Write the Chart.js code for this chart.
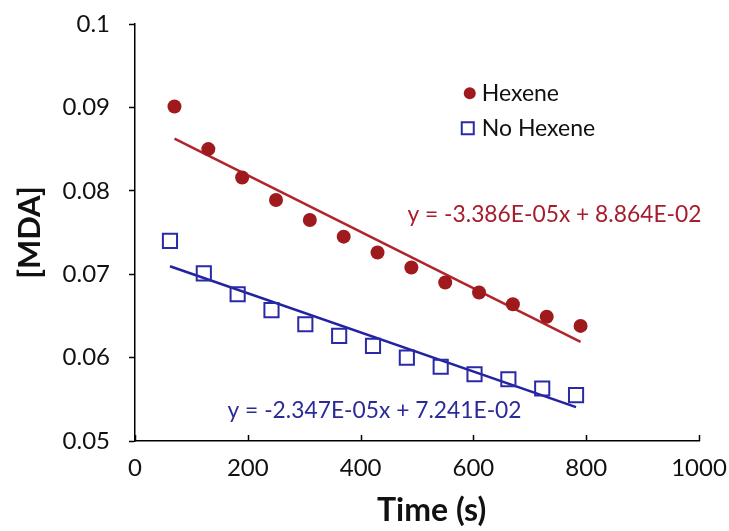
<!DOCTYPE html>
<html>
<head>
<meta charset="utf-8">
<script src="https://cdn.jsdelivr.net/npm/chart.js@4.4.0/dist/chart.umd.min.js"></script>
<style>
html,body{margin:0;padding:0;background:#fff;}
#wrap{width:729px;height:531px;position:relative;}
</style>
</head>
<body>
<div id="wrap"><canvas id="c" width="729" height="531"></canvas></div>
<script>
// Data
const hexeneTime = [70, 130, 190, 250, 310, 370, 430, 490, 550, 610, 670, 730, 790];
const hexeneMDA  = [0.0901, 0.0850, 0.0816, 0.0789, 0.0765, 0.0745, 0.0726, 0.0708, 0.0690, 0.0678, 0.0664, 0.0649, 0.0638];
const noHexeneTime = [62, 122, 182, 242, 302, 362, 422, 482, 542, 602, 662, 722, 782];
const noHexeneMDA  = [0.0740, 0.0701, 0.0676, 0.0657, 0.0640, 0.0626, 0.0614, 0.0600, 0.0589, 0.0580, 0.0574, 0.0563, 0.0555];
const hexeneFit = {slope: -3.386e-5, intercept: 8.864e-2};
const noHexeneFit = {slope: -2.347e-5, intercept: 7.241e-2};
const xTicks = [0, 200, 400, 600, 800, 1000];
const yTicks = [0.05, 0.06, 0.07, 0.08, 0.09, 0.1];
const seriesNames = ['Hexene', 'No Hexene'];
const xTitle = 'Time (s)';
const yTitle = '[MDA]';
const hexeneEquation = 'y = -3.386E-05x + 8.864E-02';
const noHexeneEquation = 'y = -2.347E-05x + 7.241E-02';

const RED_PT = '#9e1a1c', RED_LINE = '#b0242a', RED_TXT = '#a51e2e';
const BLUE_PT = '#2a2aa6', BLUE_LINE = '#2323a0', BLUE_TXT = '#2b2b98';
const FONT = 'Lato';

function fitLine(xs, fit) {
  const a = xs[0], b = xs[xs.length - 1];
  return [{x: a, y: fit.slope * a + fit.intercept}, {x: b, y: fit.slope * b + fit.intercept}];
}

const overlay = {
  id: 'overlay',
  afterDraw(chart) {
    const ctx = chart.ctx;
    const xs = chart.scales.x, ys = chart.scales.y;
    ctx.save();
    // x ticks pointing inward
    ctx.strokeStyle = '#000'; ctx.lineWidth = 1.5;
    xTicks.forEach(v => {
      const px = Math.round(xs.getPixelForValue(v)) + 0.5;
      ctx.beginPath(); ctx.moveTo(px, ys.bottom); ctx.lineTo(px, ys.bottom - 6); ctx.stroke();
    });
    // x axis title
    ctx.fillStyle = '#111';
    ctx.font = 'bold 32px ' + FONT;
    ctx.textAlign = 'center'; ctx.textBaseline = 'middle';
    ctx.fillText(xTitle, xs.getPixelForValue(526), ys.bottom + 70);
    // legend
    const lx = xs.getPixelForValue(590), ly1 = ys.getPixelForValue(0.0917), ly2 = ys.getPixelForValue(0.0875);
    ctx.fillStyle = RED_PT;
    ctx.beginPath(); ctx.arc(lx + 2, ly1, 6, 0, Math.PI * 2); ctx.fill();
    ctx.strokeStyle = BLUE_PT; ctx.lineWidth = 2;
    ctx.strokeRect(lx - 6, ly2 - 6, 12, 12);
    ctx.fillStyle = '#111';
    ctx.font = '23px ' + FONT;
    ctx.textBaseline = 'middle'; ctx.textAlign = 'left';
    ctx.fillText(seriesNames[0], lx + 14, ly1);
    ctx.fillText(seriesNames[1], lx + 14, ly2);
    // equations
    ctx.font = '22.8px ' + FONT;
    ctx.fillStyle = RED_TXT;
    ctx.fillText(hexeneEquation, xs.getPixelForValue(483), ys.getPixelForValue(0.0772));
    ctx.fillStyle = BLUE_TXT;
    ctx.fillText(noHexeneEquation, xs.getPixelForValue(164), ys.getPixelForValue(0.0536));
    ctx.restore();
  }
};

new Chart(document.getElementById('c'), {
  type: 'scatter',
  data: {
    datasets: [
      {label: seriesNames[0], data: hexeneTime.map((t, i) => ({x: t, y: hexeneMDA[i]})),
       pointStyle: 'circle', pointRadius: 7, backgroundColor: RED_PT, borderColor: RED_PT, borderWidth: 0, order: 1},
      {label: seriesNames[1], data: noHexeneTime.map((t, i) => ({x: t, y: noHexeneMDA[i]})),
       pointStyle: 'rect', pointRadius: 10, backgroundColor: 'rgba(255,255,255,0)', borderColor: BLUE_PT, borderWidth: 2, order: 1},
      {label: 'fitH', type: 'line', data: fitLine(hexeneTime, hexeneFit), borderColor: RED_LINE, borderWidth: 2.5, pointRadius: 0, showLine: true, order: 2},
      {label: 'fitN', type: 'line', data: fitLine(noHexeneTime, noHexeneFit), borderColor: BLUE_LINE, borderWidth: 2.5, pointRadius: 0, showLine: true, order: 2}
    ]
  },
  options: {
    responsive: false,
    animation: false,
    layout: {autoPadding: false, padding: {top: 24, right: 30, left: 0, bottom: 0}},
    plugins: {legend: {display: false}, tooltip: {enabled: false}},
    scales: {
      x: {
        type: 'linear', min: 0, max: 1000,
        afterBuildTicks(s) { s.ticks = xTicks.map(v => ({value: v})); },
        afterFit(s) { s.height = 90; },
        grid: {display: true, drawOnChartArea: false, drawTicks: false, color: '#000'},
        border: {display: true, color: '#000', width: 1.5},
        ticks: {padding: 0, color: '#111', font: {family: FONT, size: 24, lineHeight: '55px'}, maxRotation: 0,
                callback: v => String(v)},
        title: {display: false}
      },
      y: {
        type: 'linear', min: 0.05, max: 0.1,
        afterBuildTicks(s) { s.ticks = yTicks.map(v => ({value: v})); },
        afterFit(s) { s.width = 135; },
        grid: {display: true, drawOnChartArea: false, drawTicks: true, tickLength: 6, color: '#000', tickWidth: 1.5},
        border: {display: true, color: '#000', width: 1.5},
        ticks: {padding: 19, color: '#111', font: {family: FONT, size: 24, lineHeight: '8px'},
                callback: v => String(Math.round(v * 100) / 100)},
        title: {display: true, text: yTitle, color: '#111', font: {family: FONT, size: 31, weight: 'bold'}, padding: {top: 11, bottom: 0}}
      }
    }
  },
  plugins: [overlay]
});
</script>
</body>
</html>
